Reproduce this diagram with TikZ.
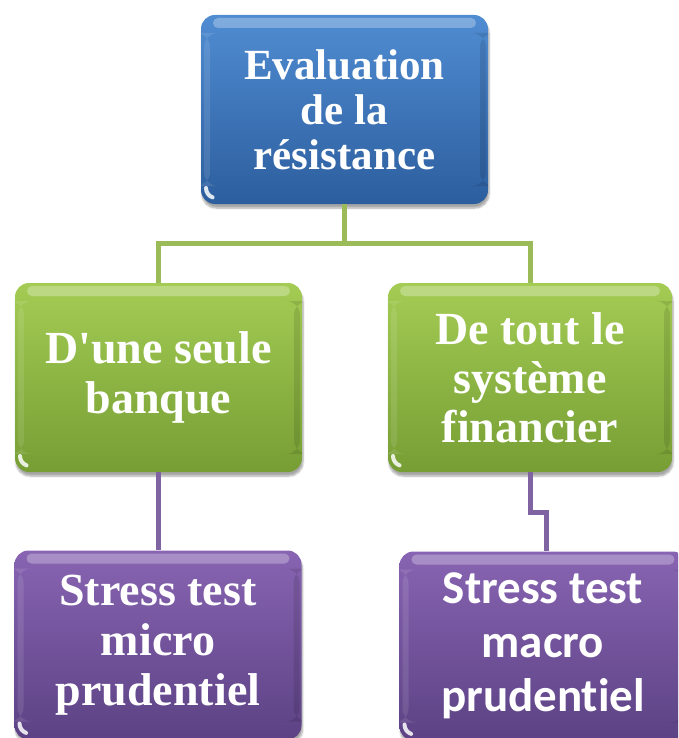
\documentclass[tikz,border=0pt]{standalone}
\usepackage{fontspec}
\setmainfont{Liberation Serif}
\newfontfamily\calibfont[Ligatures=NoCommon]{Carlito}
\usetikzlibrary{shadows.blur,calc}

\definecolor{blueTop}{RGB}{80,140,210}
\definecolor{blueBot}{RGB}{44,94,158}
\definecolor{greenTop}{RGB}{164,204,84}
\definecolor{greenBot}{RGB}{118,158,52}
\definecolor{purpTop}{RGB}{136,100,178}
\definecolor{purpBot}{RGB}{92,66,132}
\definecolor{greenLine}{RGB}{155,187,89}
\definecolor{purpLine}{RGB}{128,100,162}

\tikzset{
  glossbox/.style={
    rounded corners=14pt, inner sep=0pt, align=center, text=white,
    minimum width=287pt, minimum height=189pt,
    blur shadow={shadow xshift=1pt, shadow yshift=-4pt, shadow blur steps=6, shadow opacity=35},
    path picture={
      % glossy band along the top edge
      \fill[white, opacity=.28, rounded corners=5pt]
        ([xshift=12pt,yshift=-3pt]path picture bounding box.north west) rectangle
        ([xshift=-12pt,yshift=-13pt]path picture bounding box.north east);
      % faint light strip along the left edge
      \fill[white, opacity=.10]
        ([xshift=3pt,yshift=-18pt]path picture bounding box.north west) rectangle
        ([xshift=9pt,yshift=18pt]path picture bounding box.south west);
      % darker strip along the right edge
      \fill[black, opacity=.10]
        ([xshift=-8pt,yshift=-18pt]path picture bounding box.north east) rectangle
        ([xshift=-2pt,yshift=18pt]path picture bounding box.south east);
      % small glint in the lower-left corner
      \draw[white, opacity=.85, line width=4pt, line cap=round]
        ([xshift=5pt,yshift=16pt]path picture bounding box.south west)
        arc[start angle=180, end angle=250, radius=10pt];
    }
  },
  bluebox/.style={glossbox, top color=blueTop, bottom color=blueBot},
  greenbox/.style={glossbox, top color=greenTop, bottom color=greenBot},
  purpbox/.style={glossbox, top color=purpTop, bottom color=purpBot},
  greenlink/.style={draw=greenLine, line width=5pt},
  purplink/.style={draw=purpLine, line width=5pt},
}

\begin{document}
\begin{tikzpicture}[x=1pt, y=-1pt]
  \useasboundingbox (0,0) rectangle (678,738);
  \clip (0,0) rectangle (678,738);

  % boxes
  \node[bluebox, font=\fontsize{43}{45}\selectfont\bfseries]
    (eval) at (344.5,109.5) {Evaluation\\de la\\résistance};
  \node[greenbox, font=\fontsize{46}{50}\selectfont\bfseries]
    (seule) at (158.5,377.5) {D\textquotesingle une seule\\banque};
  \node[greenbox, minimum width=284pt, font=\fontsize{46}{49}\selectfont\bfseries]
    (tout) at (530,377.5) {De tout le\\système\\financier};
  \node[purpbox, font=\fontsize{46}{50}\selectfont\bfseries]
    (micro) at (158,645) {Stress test\\micro\\prudentiel};
  \node[purpbox, font=\calibfont\fontsize{47}{54}\selectfont\bfseries]
    (macro) at (543,646) {Stress test\\macro\\prudentiel};

  % connectors
  \coordinate (fork) at (344.5,243);
  \coordinate (jog) at (546,512);
  \draw[greenlink] (eval.south) -- (fork);
  \draw[greenlink] (fork) -| (seule.north);
  \draw[greenlink] (fork) -| (tout.north);
  \draw[purplink] (seule.south) -- (seule.south |- micro.north);
  \draw[purplink] (tout.south) |- (jog) -- (jog |- macro.north);
\end{tikzpicture}
\end{document}
